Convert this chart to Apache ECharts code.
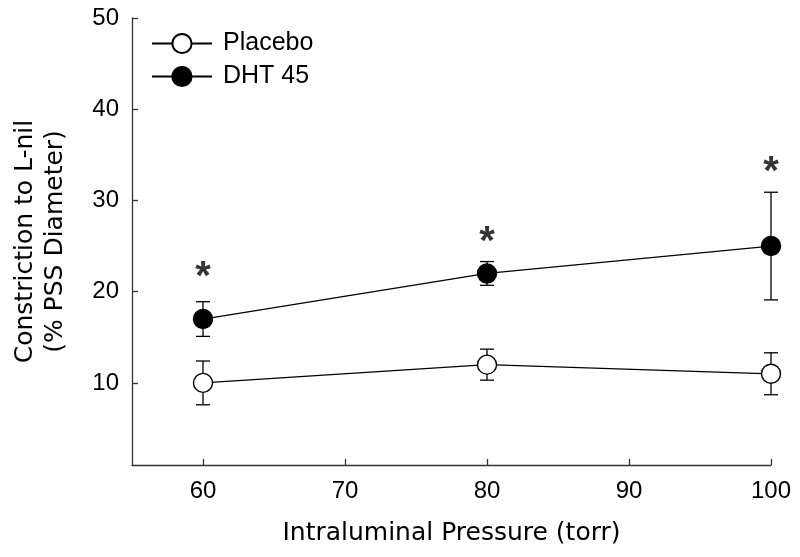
<!DOCTYPE html>
<html>
<head>
<meta charset="utf-8">
<script src="https://cdn.jsdelivr.net/npm/echarts@6/dist/echarts.min.js"></script>
<style>html,body{margin:0;padding:0;background:#fff;}#c{width:800px;height:557px;}</style>
</head>
<body>
<div id="c"></div>
<script>
const pressures = [60, 80, 100];
const placebo = [10, 12, 11];
const placeboErr = [2.4, 1.7, 2.3];
const dht = [17, 22, 25];
const dhtErr = [1.9, 1.3, 5.9];
const asteriskY = [22.4, 26.2, 33.9];
const xTicks = [60, 70, 80, 90, 100];
const yTicks = [10, 20, 30, 40, 50];

const FONT = '"Liberation Sans", Arial, sans-serif';
const TFONT = '"DejaVu Sans", sans-serif';

function errData(vals, errs) { return pressures.map((p, i) => [p, vals[i], errs[i]]); }
function ptData(vals) { return pressures.map((p, i) => [p, vals[i]]); }

function renderErr(params, api) {
  const x = api.value(0), y = api.value(1), e = api.value(2);
  const t = api.coord([x, y + e]);
  const b = api.coord([x, y - e]);
  const w = 7;
  const st = { stroke: '#000', lineWidth: 1.3 };
  return { type: 'group', children: [
    { type: 'line', shape: { x1: t[0], y1: t[1], x2: b[0], y2: b[1] }, style: st },
    { type: 'line', shape: { x1: t[0] - w, y1: t[1], x2: t[0] + w, y2: t[1] }, style: st },
    { type: 'line', shape: { x1: b[0] - w, y1: b[1], x2: b[0] + w, y2: b[1] }, style: st }
  ]};
}

const chart = echarts.init(document.getElementById('c'), null, { renderer: 'canvas' });
chart.setOption({
  animation: false,
  backgroundColor: '#fff',
  grid: { left: 132, right: 29, top: 18, bottom: 92 },
  legend: {
    data: ['Placebo', 'DHT 45'],
    orient: 'vertical',
    left: 146, top: 26,
    itemWidth: 60, itemHeight: 24, itemGap: 8,
    textStyle: { fontFamily: FONT, fontSize: 25, color: '#000', padding: [0, 0, 0, 6] }
  },
  xAxis: {
    type: 'value', min: 55, max: 100,
    name: 'Intraluminal Pressure (torr)', nameLocation: 'middle', nameGap: 56,
    nameTextStyle: { fontFamily: TFONT, fontSize: 25, color: '#000' },
    axisLine: { onZero: false, lineStyle: { color: '#333', width: 1.3 } },
    axisTick: { inside: true, length: 6, customValues: xTicks, lineStyle: { color: '#333', width: 1.3 } },
    axisLabel: { customValues: xTicks, fontFamily: FONT, fontSize: 24, color: '#000', margin: 14 },
    splitLine: { show: false }
  },
  yAxis: {
    type: 'value', min: 1, max: 50,
    name: 'Constriction to L-nil\n(% PSS Diameter)', nameLocation: 'middle', nameGap: 62, nameRotate: 90,
    nameTextStyle: { fontFamily: TFONT, fontSize: 25, color: '#000', lineHeight: 30 },
    axisLine: { show: true, onZero: false, lineStyle: { color: '#333', width: 1.3 } },
    axisTick: { show: true, inside: true, length: 6, customValues: yTicks, lineStyle: { color: '#333', width: 1.3 } },
    axisLabel: { customValues: yTicks, fontFamily: FONT, fontSize: 24, color: '#000', margin: 13 },
    splitLine: { show: false }
  },
  series: [
    { type: 'custom', renderItem: renderErr, data: errData(placebo, placeboErr), z: 1, silent: true },
    { type: 'custom', renderItem: renderErr, data: errData(dht, dhtErr), z: 1, silent: true },
    {
      name: 'Placebo', type: 'line', data: ptData(placebo), z: 3,
      symbol: 'circle', symbolSize: 19,
      lineStyle: { color: '#000', width: 1.3 },
      itemStyle: { color: '#fff', borderColor: '#000', borderWidth: 1.4 }
    },
    {
      name: 'DHT 45', type: 'line', data: ptData(dht), z: 3,
      symbol: 'circle', symbolSize: 19,
      lineStyle: { color: '#000', width: 1.3 },
      itemStyle: { color: '#000', borderColor: '#000', borderWidth: 1.4 }
    },
    {
      name: 'sig', type: 'scatter', data: ptData(asteriskY), symbolSize: 2, z: 4, silent: true,
      itemStyle: { color: 'rgba(0,0,0,0)' },
      label: { show: true, position: 'inside', formatter: '*', fontFamily: FONT, fontWeight: 'bold', fontSize: 40, color: '#000', textBorderWidth: 0, offset: [0, 8] }
    }
  ]
});
</script>
</body>
</html>
